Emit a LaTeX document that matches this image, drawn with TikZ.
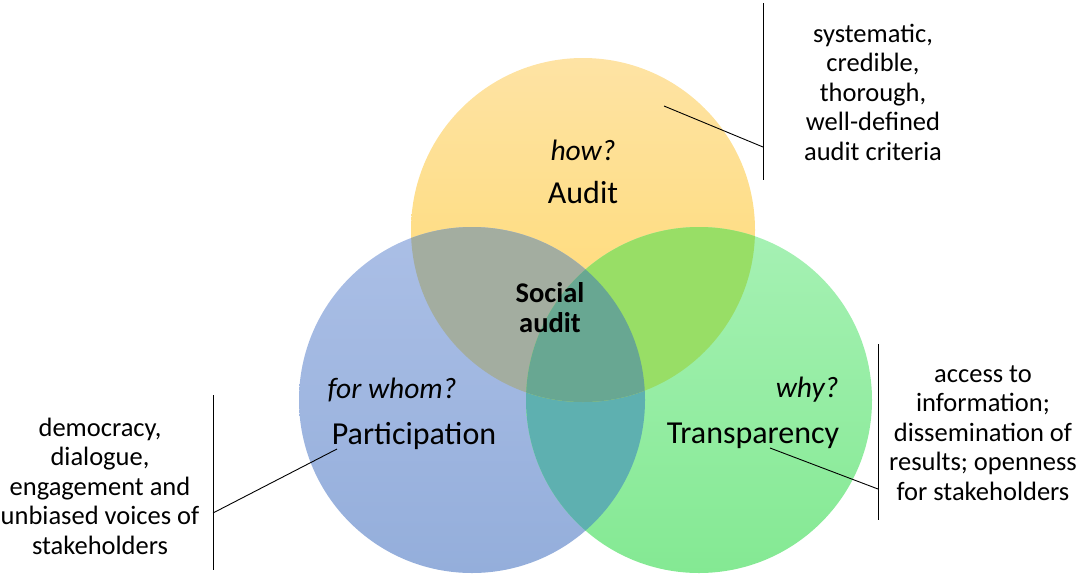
\documentclass[tikz,border=0pt]{standalone}
\usepackage{fontspec}
\setmainfont{Carlito}
\usetikzlibrary{positioning}

\definecolor{auditTop}{HTML}{FEE3A4}
\definecolor{auditBot}{HTML}{FFD96C}
\definecolor{partTop}{HTML}{ABBFE6}
\definecolor{partBot}{HTML}{94AEDB}
\definecolor{transTop}{HTML}{A6F1B4}
\definecolor{transBot}{HTML}{84E993}
\definecolor{mixAP}{HTML}{A3ADA0}
\definecolor{mixAT}{HTML}{98DE66}
\definecolor{mixPT}{HTML}{5EB0B0}
\definecolor{mixAll}{HTML}{68A792}

\begin{document}
\begin{tikzpicture}[x=1pt, y=-1pt,
  setname/.style={font=\fontsize{32}{38}\selectfont},
  ask/.style={font=\fontsize{29.5}{34}\selectfont\itshape},
  core/.style={align=center, font=\fontsize{28.5}{30}\selectfont\bfseries},
  sidenote/.style={align=center, font=\fontsize{26.5}{29.5}\selectfont},
  bar/.style={line width=0.9pt, black}]
  \useasboundingbox (0,0) rectangle (1091,581);

  % circle centres
  \coordinate (ca) at (583,230);
  \coordinate (cp) at (472,400);
  \coordinate (ct) at (699,400);
  \def\ra{172pt}
  \def\rb{173pt}

  \shade[top color=auditTop, bottom color=auditBot] (ca) circle[radius=\ra];
  \shade[top color=partTop, bottom color=partBot] (cp) circle[radius=\rb];
  \shade[top color=transTop, bottom color=transBot] (ct) circle[radius=\rb];

  % overlaps
  \begin{scope}
    \clip (cp) circle[radius=\rb];
    \fill[mixPT] (ct) circle[radius=\rb];
  \end{scope}
  \begin{scope}
    \clip (ca) circle[radius=\ra];
    \fill[mixAP] (cp) circle[radius=\rb];
    \fill[mixAT] (ct) circle[radius=\rb];
    \clip (cp) circle[radius=\rb];
    \fill[mixAll] (ct) circle[radius=\rb];
  \end{scope}

  \node[ask] (how) at (583,150) {how?};
  \node[setname] (audit) at (583,193) {Audit};
  \node[core] (social) at (550,308) {Social\\audit};
  \node[ask] (whom) at (392,390) {for whom?};
  \node[setname] (part) at (414,436) {Participation};
  \node[ask, anchor=east] (why) at (842,390) {why?};
  \node[setname] (trans) at (753,436) {Transparency};

  \node[sidenote] (auditnote) at (873,92) {systematic,\\credible,\\thorough,\\well-defined\\audit criteria};
  \node[sidenote] (transnote) at (983,433) {access to\\information;\\dissemination of\\results; openness\\for stakeholders};
  \node[sidenote] (partnote) at (100,486) {democracy,\\dialogue,\\engagement and\\unbiased voices of\\stakeholders};

  % brackets beside the notes
  \coordinate (abarT) at (763,3);
  \coordinate (abarB) at (763,180);
  \coordinate (abarJ) at (763,147);
  \coordinate (aTip) at (664,106);
  \coordinate (tbarT) at (878,344);
  \coordinate (tbarB) at (878,520);
  \coordinate (tbarJ) at (878,489);
  \coordinate (tTip) at (770,448);
  \coordinate (pbarT) at (213,395);
  \coordinate (pbarB) at (213,570);
  \coordinate (pbarJ) at (213,513);
  \coordinate (pTip) at (337,449);

  \draw[bar] (abarT) -- (abarB);
  \draw[bar] (aTip) -- (abarJ);
  \draw[bar] (tbarT) -- (tbarB);
  \draw[bar] (tTip) -- (tbarJ);
  \draw[bar] (pbarT) -- (pbarB);
  \draw[bar] (pTip) -- (pbarJ);
\end{tikzpicture}
\end{document}
